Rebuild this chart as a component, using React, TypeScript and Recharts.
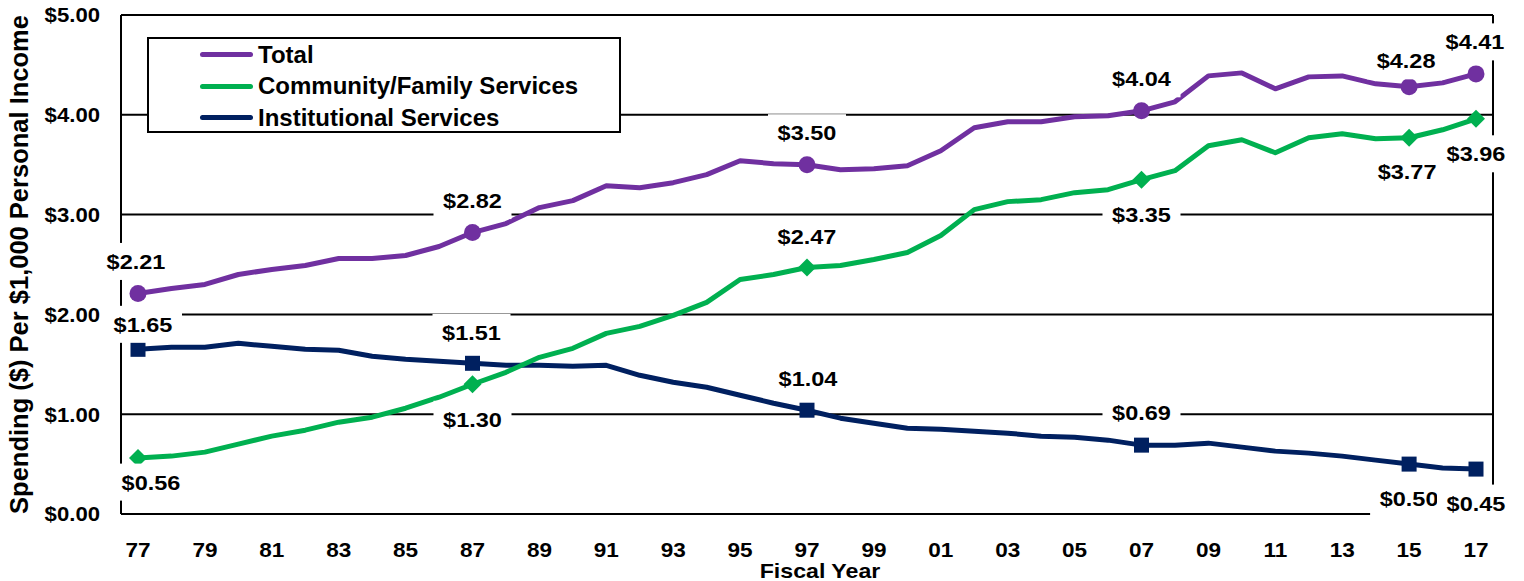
import React from "react";
import { LineChart, Line, XAxis, YAxis, CartesianGrid, Legend, LabelList } from "recharts";

// fiscal years 1977-2017, two-digit labels as on the axis
const years = [
  "77", "78", "79", "80", "81", "82", "83", "84", "85", "86",
  "87", "88", "89", "90", "91", "92", "93", "94", "95", "96",
  "97", "98", "99", "00", "01", "02", "03", "04", "05", "06",
  "07", "08", "09", "10", "11", "12", "13", "14", "15", "16", "17",
];

// spending per $1,000 personal income
const total = [
  2.21, 2.26, 2.3, 2.4, 2.45, 2.49, 2.56, 2.56, 2.59, 2.68,
  2.82, 2.91, 3.07, 3.14, 3.29, 3.27, 3.32, 3.4, 3.54, 3.51,
  3.5, 3.45, 3.46, 3.49, 3.64, 3.87, 3.93, 3.93, 3.98, 3.99,
  4.04, 4.13, 4.39, 4.42, 4.26, 4.38, 4.39, 4.31, 4.28, 4.32, 4.41,
];
const community = [
  0.56, 0.58, 0.62, 0.7, 0.78, 0.84, 0.92, 0.97, 1.06, 1.17,
  1.3, 1.42, 1.57, 1.66, 1.81, 1.88, 1.99, 2.12, 2.35, 2.4,
  2.47, 2.49, 2.55, 2.62, 2.79, 3.05, 3.13, 3.15, 3.22, 3.25,
  3.35, 3.44, 3.69, 3.75, 3.62, 3.77, 3.81, 3.76, 3.77, 3.85, 3.96,
];
const institutional = [
  1.65, 1.67, 1.67, 1.71, 1.68, 1.65, 1.64, 1.58, 1.55, 1.53,
  1.51, 1.49, 1.49, 1.48, 1.49, 1.39, 1.32, 1.27, 1.19, 1.11,
  1.04, 0.96, 0.91, 0.86, 0.85, 0.83, 0.81, 0.78, 0.77, 0.74,
  0.69, 0.69, 0.71, 0.67, 0.63, 0.61, 0.58, 0.54, 0.5, 0.46, 0.45,
];

const markedYears = ["77", "87", "97", "07", "15", "17"];
const yTicks = [0, 1, 2, 3, 4, 5];

const TOTAL = "Total";
const COMMUNITY = "Community/Family Services";
const INSTITUTIONAL = "Institutional Services";
const legendOrder = [TOTAL, COMMUNITY, INSTITUTIONAL];

const PURPLE = "#7030A0";
const GREEN = "#00B050";
const NAVY = "#002060";
const FONT = "'Liberation Sans', Arial, Helvetica, sans-serif";

const data = years.map((year, i) => ({
  year,
  total: total[i],
  community: community[i],
  institutional: institutional[i],
}));

const marked = markedYears.map((y) => years.indexOf(y));
const money = (v: number) => `$${v.toFixed(2)}`;

// label placement (dx, dy from the point) for each marked year
const totalLabelPos: Record<string, [number, number]> = {
  "77": [-2, -32], "87": [0, -32], "97": [0, -32], "07": [0, -32], "15": [-3, -26], "17": [-1, -32],
};
const communityLabelPos: Record<string, [number, number]> = {
  "77": [13, 24], "87": [0, 35], "97": [0, -31], "07": [0, 35], "15": [-2, 34], "17": [0, 35],
};
const institutionalLabelPos: Record<string, [number, number]> = {
  "77": [5, -25], "87": [-1, -31], "97": [1, -32], "07": [0, -33], "15": [0, 34], "17": [0, 34],
};

// bold text, slightly widened like the original export
function SText({ x, y, sx = 1, size, anchor = "middle", children }: any) {
  return (
    <text
      transform={`translate(${x} ${y}) scale(${sx} 1)`}
      x={0}
      y={0}
      textAnchor={anchor}
      fontSize={size}
      fontWeight="bold"
      fill="#000"
      fontFamily={FONT}
    >
      {children}
    </text>
  );
}

function makeLabel(pos: Record<string, [number, number]>) {
  return (props: any) => {
    const { index, value } = props;
    const off = pos[years[index]];
    const px = props.x ?? props.viewBox?.x;
    const py = props.y ?? props.viewBox?.y;
    if (!off || px == null || py == null) return <g />;
    const cx = px + off[0];
    const cy = py + off[1];
    return (
      <g>
        <rect x={cx - 39} y={cy - 18.5} width={78} height={37} fill="#fff" />
        <SText x={cx} y={cy + 7.5} sx={1.12} size={21}>
          {money(Number(value))}
        </SText>
      </g>
    );
  };
}

function makeDot(shape: "circle" | "diamond" | "square", color: string) {
  return (props: any) => {
    const { cx, cy, index } = props;
    if (!marked.includes(index) || cx == null) return <g key={`dot-${index}`} />;
    if (shape === "circle") return <circle key={`dot-${index}`} cx={cx} cy={cy} r={8.5} fill={color} />;
    if (shape === "square")
      return <rect key={`dot-${index}`} x={cx - 7.5} y={cy - 7.5} width={15} height={15} fill={color} />;
    const d = 9;
    return (
      <polygon
        key={`dot-${index}`}
        points={`${cx},${cy - d} ${cx + d},${cy} ${cx},${cy + d} ${cx - d},${cy}`}
        fill={color}
      />
    );
  };
}

const XTick = (p: any) => (
  <SText x={p.x} y={p.y + 14.7} sx={1.1} size={20.5}>
    {p.payload.value}
  </SText>
);

const YTick = (p: any) => (
  <SText x={p.x} y={p.y + 7.3} sx={1.08} size={20.5} anchor="end">
    {money(p.payload.value)}
  </SText>
);

function LegendBox({ payload }: any) {
  const items = [...(payload || [])].sort(
    (a: any, b: any) => legendOrder.indexOf(a.value) - legendOrder.indexOf(b.value)
  );
  return (
    <div
      style={{
        boxSizing: "border-box",
        width: 474,
        height: 96,
        border: "2px solid #000",
        background: "#fff",
        fontFamily: FONT,
      }}
    >
      {items.map((it: any) => (
        <div key={it.value} style={{ display: "flex", alignItems: "center", height: 31.5 }}>
          <span
            style={{
              display: "inline-block",
              marginLeft: 51,
              width: 53,
              height: 5,
              borderRadius: 3,
              background: it.color,
            }}
          />
          <span style={{ marginLeft: 5, fontSize: 24, fontWeight: "bold", color: "#000" }}>{it.value}</span>
        </div>
      ))}
    </div>
  );
}

function YTitle({ viewBox }: any) {
  const cx = (viewBox?.x ?? 0) + 19;
  const cy = (viewBox?.y ?? 15) + (viewBox?.height ?? 499) / 2;
  return (
    <text
      x={cx}
      y={cy}
      transform={`rotate(-90 ${cx} ${cy})`}
      textAnchor="middle"
      dy="0.35em"
      fontSize={25.5}
      fontWeight="bold"
      fill="#000"
      fontFamily={FONT}
    >
      Spending ($) Per $1,000 Personal Income
    </text>
  );
}

function XTitle({ viewBox }: any) {
  const cx = (viewBox?.x ?? 121) + (viewBox?.width ?? 1372) / 2 + 13;
  const baseline = (viewBox?.y ?? 514) + 63.5;
  return (
    <SText x={cx} y={baseline} sx={1.13} size={20.5}>
      Fiscal Year
    </SText>
  );
}

export default function App() {
  return (
    <div style={{ width: 1524, height: 581, fontFamily: FONT, background: "#fff" }}>
      <style>{"body{margin:0}"}</style>
      <LineChart width={1524} height={581} data={data} margin={{ top: 15, right: 31, left: 0, bottom: 0 }}>
        <CartesianGrid
          stroke="#000"
          strokeWidth={2}
          verticalCoordinatesGenerator={({ offset }: any) => [offset.left, offset.left + offset.width]}
        />
        <XAxis
          dataKey="year"
          interval={1}
          padding={{ left: 17, right: 17 }}
          height={67}
          tickLine={false}
          axisLine={false}
          tickSize={0}
          tickMargin={28}
          tick={XTick}
          label={{ content: XTitle }}
        />
        <YAxis
          domain={[0, 5]}
          ticks={yTicks}
          width={121}
          tickLine={false}
          axisLine={false}
          tickSize={0}
          tickMargin={21}
          tick={YTick}
          label={{ content: YTitle }}
        />
        <Legend
          layout="vertical"
          align="center"
          verticalAlign="middle"
          content={LegendBox}
          wrapperStyle={{ left: 147, top: 37, width: 474, height: 96 }}
        />
        <Line
          type="linear"
          dataKey="institutional"
          name={INSTITUTIONAL}
          stroke={NAVY}
          strokeWidth={5}
          strokeLinejoin="round"
          dot={makeDot("square", NAVY)}
          activeDot={false}
          isAnimationActive={false}
        >
          <LabelList dataKey="institutional" content={makeLabel(institutionalLabelPos)} />
        </Line>
        <Line
          type="linear"
          dataKey="community"
          name={COMMUNITY}
          stroke={GREEN}
          strokeWidth={5}
          strokeLinejoin="round"
          dot={makeDot("diamond", GREEN)}
          activeDot={false}
          isAnimationActive={false}
        >
          <LabelList dataKey="community" content={makeLabel(communityLabelPos)} />
        </Line>
        <Line
          type="linear"
          dataKey="total"
          name={TOTAL}
          stroke={PURPLE}
          strokeWidth={5}
          strokeLinejoin="round"
          dot={makeDot("circle", PURPLE)}
          activeDot={false}
          isAnimationActive={false}
        >
          <LabelList dataKey="total" content={makeLabel(totalLabelPos)} />
        </Line>
      </LineChart>
    </div>
  );
}
